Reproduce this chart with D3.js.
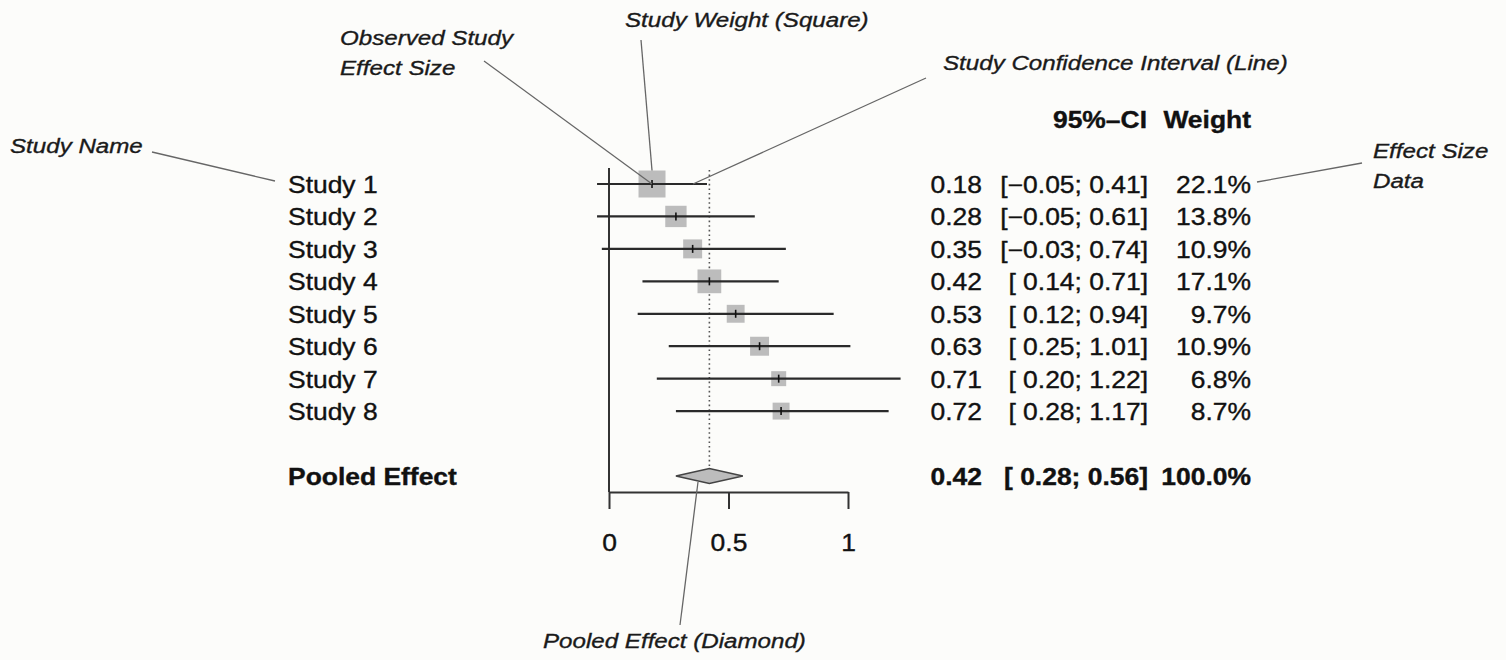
<!DOCTYPE html>
<html>
<head>
<meta charset="utf-8">
<script src="https://cdn.jsdelivr.net/npm/d3@7"></script>
<style>
  html, body { margin: 0; padding: 0; background: #fcfcfa; }
  svg { display: block; font-family: "Liberation Sans", Arial, Helvetica, sans-serif; }
</style>
</head>
<body>
<svg id="chart" width="1506" height="660"></svg>
<script>
// study data
const studies = ["Study 1", "Study 2", "Study 3", "Study 4", "Study 5", "Study 6", "Study 7", "Study 8"];
const effects = [0.18, 0.28, 0.35, 0.42, 0.53, 0.63, 0.71, 0.72];
const lowers = [-0.05, -0.05, -0.03, 0.14, 0.12, 0.25, 0.20, 0.28];
const uppers = [0.41, 0.61, 0.74, 0.71, 0.94, 1.01, 1.22, 1.17];
const weights = [22.1, 13.8, 10.9, 17.1, 9.7, 10.9, 6.8, 8.7];
// pooled estimate
const pooledLabel = "Pooled Effect";
const pooledEffect = 0.42;
const pooledLower = 0.28;
const pooledUpper = 0.56;
const pooledWeight = 100.0;
const xTicks = [0, 0.5, 1];

const SX = 1.15; // the original text is rendered wide
const svg = d3.select("#chart");

const x = d3.scaleLinear().domain([0, 1]).range([609, 848]);
// row index -> y ; header at -2, studies 0..7, pooled at 9
const y = d3.scaleLinear().domain([0, 9]).range([184, 476]);
const side = d3.scaleSqrt().domain([0, d3.max(weights)]).range([0, 27]);

const f2 = d3.format(".2f");
const f1 = d3.format(".1f");
function fmtCI(v) {
  return v < 0 ? "\u2212" + f2(-v) : " " + f2(v);
}

// place text with horizontal stretch
function txt(g, str, px, py, opts = {}) {
  const fill = opts.fill || "#111";
  return g.append("text")
    .attr("transform", `translate(${px},${py}) scale(${SX},1)`)
    .attr("text-anchor", opts.anchor || "start")
    .attr("font-size", opts.size || 23)
    .attr("font-weight", opts.bold ? "bold" : "normal")
    .attr("font-style", opts.italic ? "italic" : "normal")
    .attr("fill", fill)
    .attr("stroke", fill).attr("stroke-width", 0.35)
    .style("white-space", "pre")
    .text(str);
}

const rows = studies.map((s, i) => ({
  name: s, te: effects[i], lo: lowers[i], hi: uppers[i], w: weights[i], i
}));

// reference line at 0 + dotted pooled line
const plot = svg.append("g");
plot.append("line")
  .attr("x1", x(0)).attr("x2", x(0))
  .attr("y1", 168).attr("y2", 492)
  .attr("stroke", "#333").attr("stroke-width", 2);
plot.append("line")
  .attr("x1", x(pooledEffect)).attr("x2", x(pooledEffect))
  .attr("y1", 170).attr("y2", y(9) - 8)
  .attr("stroke", "#555").attr("stroke-width", 1.6)
  .attr("stroke-dasharray", "1.6,3");

// squares
plot.selectAll("rect.sq").data(rows).join("rect")
  .attr("class", "sq")
  .attr("x", d => x(d.te) - side(d.w) / 2)
  .attr("y", d => y(d.i) - side(d.w) / 2)
  .attr("width", d => side(d.w))
  .attr("height", d => side(d.w))
  .attr("fill", "#bcbcbc");

// CI lines
plot.selectAll("line.ci").data(rows).join("line")
  .attr("class", "ci")
  .attr("x1", d => x(d.lo)).attr("x2", d => x(d.hi))
  .attr("y1", d => y(d.i)).attr("y2", d => y(d.i))
  .attr("stroke", "#2a2a2a").attr("stroke-width", 2.2);

// point estimate ticks
plot.selectAll("line.pt").data(rows).join("line")
  .attr("class", "pt")
  .attr("x1", d => x(d.te)).attr("x2", d => x(d.te))
  .attr("y1", d => y(d.i) - 4).attr("y2", d => y(d.i) + 4)
  .attr("stroke", "#111").attr("stroke-width", 1.6);

// pooled diamond
const py = y(9);
plot.append("path")
  .attr("d", `M${x(pooledLower)},${py}L${x(pooledEffect)},${py - 7.5}L${x(pooledUpper)},${py}L${x(pooledEffect)},${py + 7.5}Z`)
  .attr("fill", "#bcbcbc").attr("stroke", "#444").attr("stroke-width", 1.6);

// x axis
const axis = svg.append("g")
  .attr("transform", "translate(0,492)")
  .call(d3.axisBottom(x).tickValues(xTicks).tickSize(17).tickSizeOuter(0).tickFormat(d3.format("~g")));
axis.select(".domain").attr("stroke", "#333").attr("stroke-width", 2);
axis.selectAll(".tick line").attr("stroke", "#333").attr("stroke-width", 2);
axis.selectAll(".tick text")
  .attr("y", 59).attr("dy", 0)
  .attr("transform", `scale(${SX},1)`)
  .attr("font-size", 23)
  .attr("font-family", "Liberation Sans, Arial, sans-serif")
  .attr("fill", "#111")
  .attr("stroke", "#111").attr("stroke-width", 0.35);

// left labels and right columns
const lab = svg.append("g");
rows.forEach(d => {
  const by = y(d.i) + 9;
  txt(lab, d.name, 288, by);
  txt(lab, f2(d.te), 982, by, { anchor: "end" });
  txt(lab, "[" + fmtCI(d.lo) + "; " + fmtCI(d.hi).trim() + "]", 1148, by, { anchor: "end" });
  txt(lab, f1(d.w) + "%", 1251, by, { anchor: "end" });
});
const pby = y(9) + 9;
txt(lab, pooledLabel, 288, pby, { bold: true });
txt(lab, f2(pooledEffect), 982, pby, { anchor: "end", bold: true });
txt(lab, "[" + fmtCI(pooledLower) + "; " + fmtCI(pooledUpper).trim() + "]", 1148, pby, { anchor: "end", bold: true });
txt(lab, f1(pooledWeight) + "%", 1251, pby, { anchor: "end", bold: true });

// column headers
const hy = y(-2) + 9;
txt(lab, "95%\u2013CI", 1147, hy, { anchor: "end", bold: true });
txt(lab, "Weight", 1251, hy, { anchor: "end", bold: true });

// annotations
const ann = svg.append("g");
const annLines = [
  [152, 152, 275, 181],
  [484, 61, x(effects[0]), y(0)],
  [641, 40, x(effects[0]), y(0) - side(weights[0]) / 2],
  [926, 78, 693, y(0)],
  [1257, 182, 1362, 163],
  [698, py + 6, 680, 625]
];
ann.selectAll("line").data(annLines).join("line")
  .attr("x1", d => d[0]).attr("y1", d => d[1])
  .attr("x2", d => d[2]).attr("y2", d => d[3])
  .attr("stroke", "#666").attr("stroke-width", 1.3);

const ai = { italic: true, size: 21, fill: "#1a1a1a" };
txt(ann, "Study Name", 10, 153, ai);
txt(ann, "Observed Study", 340, 45, ai);
txt(ann, "Effect Size", 340, 75, ai);
txt(ann, "Study Weight (Square)", 625, 27, ai);
txt(ann, "Study Confidence Interval (Line)", 943, 70, ai);
txt(ann, "Effect Size", 1373, 158, ai);
txt(ann, "Data", 1373, 188, ai);
txt(ann, "Pooled Effect (Diamond)", 543, 648, ai);
</script>
</body>
</html>
